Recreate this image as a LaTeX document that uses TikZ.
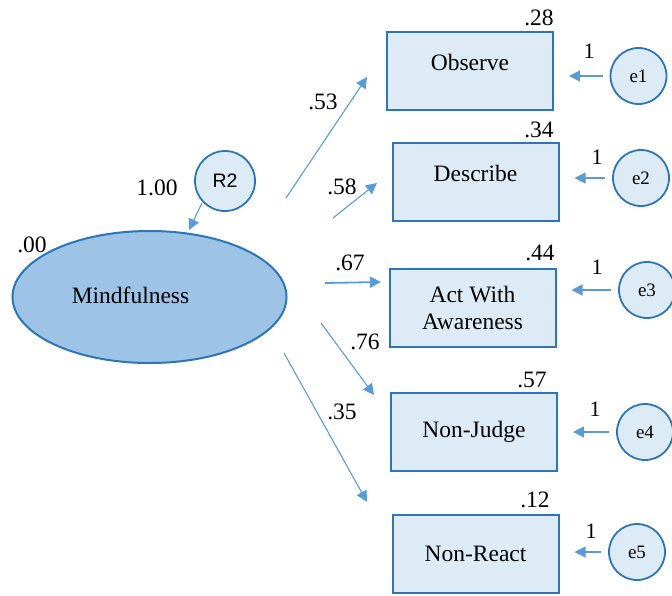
\documentclass[tikz,border=0pt]{standalone}
\usepackage{fontspec}
\setmainfont{Liberation Serif}
\newfontfamily\timesfont{Liberation Serif}
\newfontfamily\arialfont{Liberation Sans}
\usetikzlibrary{shapes.geometric,arrows.meta}

\definecolor{edgeblue}{HTML}{2E75B6}
\definecolor{pathblue}{HTML}{5B9BD5}
\definecolor{boxfill}{HTML}{DDEBF7}
\definecolor{latentfill}{HTML}{9DC3E6}

\begin{document}
\begin{tikzpicture}[x=1pt,y=-1pt,
  every node/.style={font=\timesfont\fontsize{23.5}{27}\selectfont},
  obsbox/.style={draw=edgeblue,fill=boxfill,line width=2pt,minimum width=166pt,
    minimum height=78pt,inner sep=0pt,align=center},
  errcirc/.style={circle,draw=edgeblue,fill=boxfill,line width=1.8pt,minimum size=56pt,
    inner sep=0pt,font=\timesfont\fontsize{19}{22}\selectfont},
  arr/.style={draw=pathblue,line width=1.1pt,-{Triangle[length=11pt,width=11pt]}},
  num/.style={inner sep=0pt},
  one/.style={inner sep=0pt,font=\timesfont\fontsize{22}{24}\selectfont}]

\useasboundingbox (0,0) rectangle (672,595);

% latent factor and its residual
\node[ellipse,draw=edgeblue,fill=latentfill,line width=2pt,minimum width=274pt,
  minimum height=132pt,inner sep=0pt,
  label={[xshift=-19pt,yshift=2pt]center:Mindfulness}] (mind) at (149.5,297) {};
\node[circle,draw=edgeblue,fill=boxfill,line width=1.8pt,minimum size=60pt,inner sep=0pt,
  font=\arialfont\fontsize{19.5}{22}\selectfont] (r2) at (225,181) {R2};
\node[num] (v100) at (157,188) {1.00};
\node[num] (v00) at (32,245) {.00};
\coordinate (r2s) at (202,203);
\coordinate (r2t) at (189,230);
\draw[arr] (r2s) -- (r2t);

% indicators
\node[obsbox,label={[yshift=9pt]center:Observe}] (obs) at (470,71) {};
\node[obsbox,label={[yshift=8pt]center:Describe}] (desc) at (475.5,181.5) {};
\node[obsbox] (act) at (472.5,308) {Act With\\Awareness};
\node[obsbox] (nj) at (474,432) {Non-Judge};
\node[obsbox] (nr) at (475.5,554) {Non-React};

% squared multiple correlations
\node[num] (r28) at (539,18) {.28};
\node[num] (r34) at (539,130) {.34};
\node[num] (r44) at (540,253) {.44};
\node[num] (r57) at (532,380) {.57};
\node[num] (r12) at (535,500) {.12};

% error terms
\node[errcirc] (e1) at (638.5,76) {e1};
\node[errcirc] (e2) at (641,178) {e2};
\node[errcirc] (e3) at (647,290) {e3};
\node[errcirc] (e4) at (645,432) {e4};
\node[errcirc] (e5) at (637,552) {e5};

\foreach \e/\b in {e1/obs,e2/desc,e3/act,e4/nj,e5/nr}
  \draw[arr,shorten <=7pt,shorten >=15pt] (\e.west) -- (\e.west -| \b.east);

\node[one] (w1) at (589,51) {1};
\node[one] (w2) at (597,157) {1};
\node[one] (w3) at (597,267) {1};
\node[one] (w4) at (595,409) {1};
\node[one] (w5) at (591,531) {1};

% factor loadings
\coordinate (l1s) at (286,198); \coordinate (l1t) at (367,77);
\coordinate (l2s) at (333,218); \coordinate (l2t) at (377,183);
\coordinate (l3s) at (325,283); \coordinate (l3t) at (381,282);
\coordinate (l4s) at (321,323); \coordinate (l4t) at (374,395);
\coordinate (l5s) at (284,353); \coordinate (l5t) at (367,502);

\draw[arr] (l1s) -- (l1t);
\draw[arr] (l2s) -- (l2t);
\draw[arr,line width=1.8pt] (l3s) -- (l3t);
\draw[arr] (l4s) -- (l4t);
\draw[arr] (l5s) -- (l5t);

\node[num] (k53) at (323,102) {.53};
\node[num] (k58) at (342,187) {.58};
\node[num] (k67) at (350,263) {.67};
\node[num] (k76) at (365,342) {.76};
\node[num] (k35) at (342,412) {.35};
\end{tikzpicture}
\end{document}
